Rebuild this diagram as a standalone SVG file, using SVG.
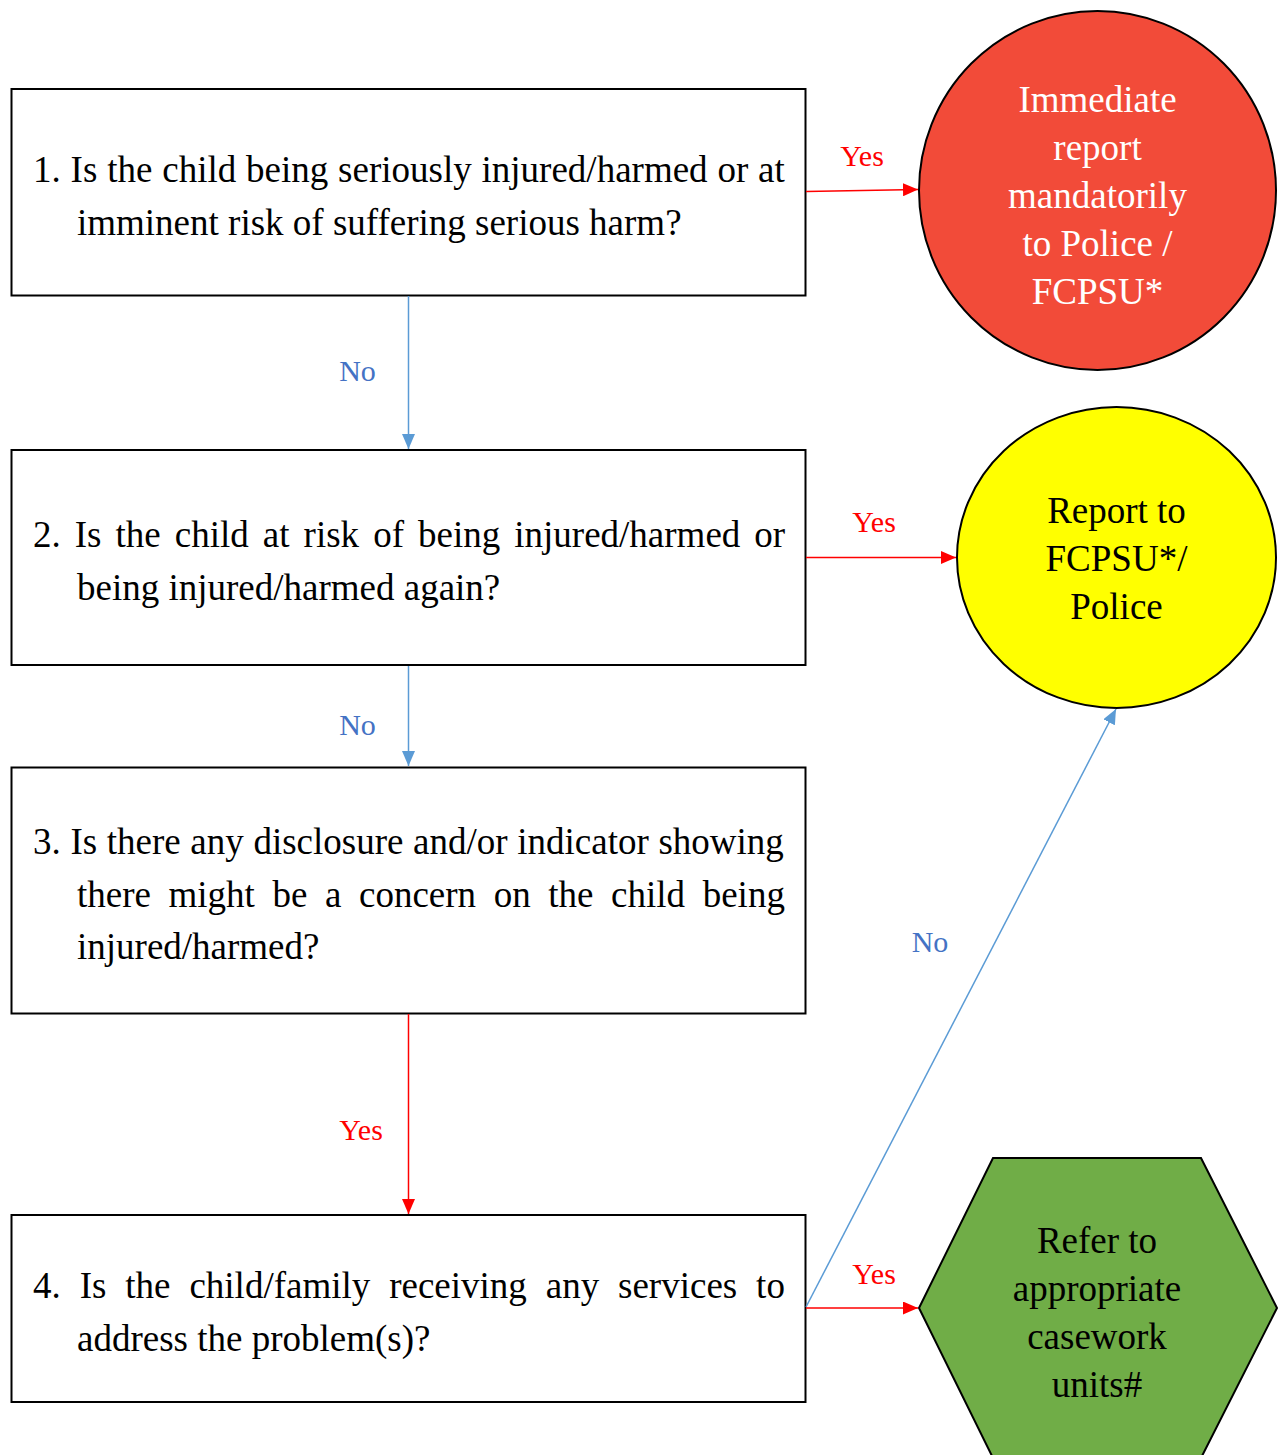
<svg xmlns="http://www.w3.org/2000/svg" width="1279" height="1455" viewBox="0 0 1279 1455">
<style>
.box{fill:#fff;stroke:#000;stroke-width:2}
.q{font-family:"Liberation Serif","Times New Roman",serif;font-size:37px;fill:#000}
.c{font-family:"Liberation Serif","Times New Roman",serif;font-size:37px;text-anchor:middle}
.lbl{font-family:"Liberation Serif","Times New Roman",serif;font-size:30px;text-anchor:middle}
.yes{fill:#FF0000}
.no{fill:#4472C4}
.lr{stroke:#FF0000;stroke-width:1.5;fill:none}
.lb{stroke:#5B9BD5;stroke-width:1.5;fill:none}
</style>
<defs>
<marker id="ar" markerUnits="userSpaceOnUse" markerWidth="15" markerHeight="13" refX="15" refY="6.5" orient="auto"><path d="M0,0 L15,6.5 L0,13 z" fill="#FF0000"/></marker>
<marker id="ab" markerUnits="userSpaceOnUse" markerWidth="15" markerHeight="13" refX="15" refY="6.5" orient="auto"><path d="M0,0 L15,6.5 L0,13 z" fill="#5B9BD5"/></marker>
</defs>
<rect width="1279" height="1455" fill="#fff"/>
<g id="q1">
<rect class="box" x="11.5" y="89" width="794" height="206.5"/>
<text class="q" x="33" y="182" style="word-spacing:0.6px">1. Is the child being seriously injured/harmed or at</text>
<text class="q" x="77" y="235">imminent risk of suffering serious harm?</text>
</g>
<g id="q2">
<rect class="box" x="11.5" y="450" width="794" height="215"/>
<text class="q" x="33" y="547" style="word-spacing:4.8px">2. Is the child at risk of being injured/harmed or</text>
<text class="q" x="77" y="600">being injured/harmed again?</text>
</g>
<g id="q3">
<rect class="box" x="11.5" y="767.5" width="794" height="246"/>
<text class="q" x="33" y="854" style="word-spacing:0.4px">3. Is there any disclosure and/or indicator showing</text>
<text class="q" x="77" y="907" style="word-spacing:8.35px">there might be a concern on the child being</text>
<text class="q" x="77" y="959">injured/harmed?</text>
</g>
<g id="q4">
<rect class="box" x="11.5" y="1215" width="794" height="187"/>
<text class="q" x="33" y="1298" style="word-spacing:9.66px">4. Is the child/family receiving any services to</text>
<text class="q" x="77" y="1351">address the problem(s)?</text>
</g>
<g id="immediate">
<ellipse cx="1097.5" cy="190.5" rx="178.5" ry="179.5" fill="#F24B39" stroke="#000" stroke-width="2"/>
<text class="c" fill="#fff"><tspan x="1097.5" y="112">Immediate</tspan><tspan x="1097.5" y="160">report</tspan><tspan x="1097.5" y="208">mandatorily</tspan><tspan x="1097.5" y="256">to Police /</tspan><tspan x="1097.5" y="304">FCPSU*</tspan></text>
</g>
<g id="report">
<ellipse cx="1116.5" cy="557.5" rx="159.5" ry="150.5" fill="#FFFF00" stroke="#000" stroke-width="2"/>
<text class="c" fill="#000"><tspan x="1116.5" y="523">Report to</tspan><tspan x="1116.5" y="571">FCPSU*/</tspan><tspan x="1116.5" y="619">Police</tspan></text>
</g>
<g id="refer">
<polygon points="919,1308 993,1158 1201,1158 1277,1308 1201,1458 993,1458" fill="#70AD47" stroke="#000" stroke-width="2"/>
<text class="c" fill="#000"><tspan x="1097" y="1253">Refer to</tspan><tspan x="1097" y="1301">appropriate</tspan><tspan x="1097" y="1349">casework</tspan><tspan x="1097" y="1397">units#</tspan></text>
</g>
<g id="connectors">
<line class="lr" x1="806" y1="191.5" x2="918" y2="189.5" marker-end="url(#ar)"/>
<text class="lbl yes" x="862" y="166">Yes</text>
<line class="lb" x1="408.5" y1="296" x2="408.5" y2="449" marker-end="url(#ab)"/>
<text class="lbl no" x="357.5" y="381">No</text>
<line class="lr" x1="806" y1="557.5" x2="956" y2="557.5" marker-end="url(#ar)"/>
<text class="lbl yes" x="874" y="532">Yes</text>
<line class="lb" x1="408.5" y1="666" x2="408.5" y2="766" marker-end="url(#ab)"/>
<text class="lbl no" x="357.5" y="735">No</text>
<line class="lr" x1="408.5" y1="1014" x2="408.5" y2="1214" marker-end="url(#ar)"/>
<text class="lbl yes" x="361" y="1140">Yes</text>
<line class="lr" x1="806" y1="1308" x2="918" y2="1308" marker-end="url(#ar)"/>
<text class="lbl yes" x="874" y="1284">Yes</text>
<line class="lb" x1="806" y1="1307" x2="1116" y2="709" marker-end="url(#ab)"/>
<text class="lbl no" x="930" y="952">No</text>
</g>
</svg>
